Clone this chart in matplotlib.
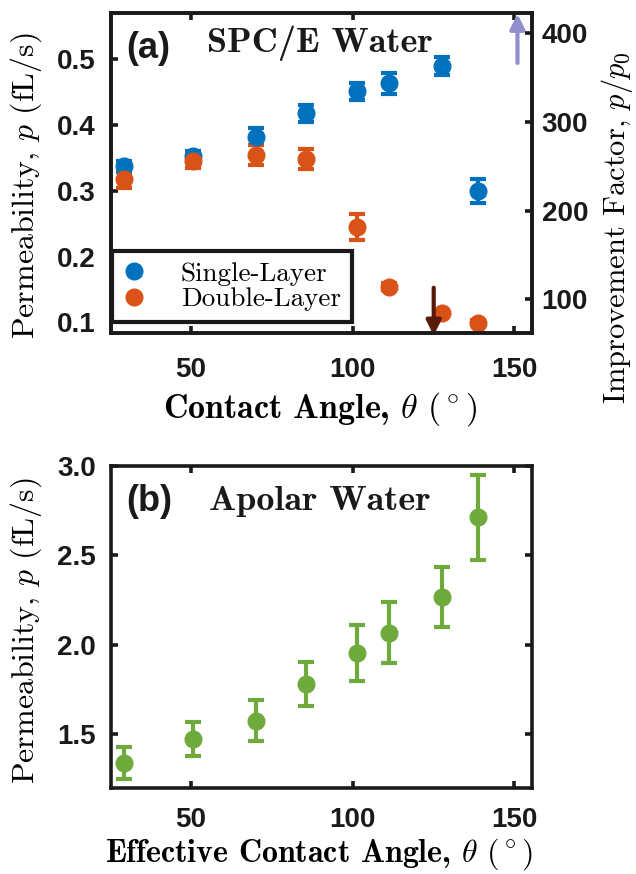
import matplotlib
matplotlib.use("Agg")
import matplotlib.pyplot as plt
from matplotlib.lines import Line2D

plt.rcParams['mathtext.fontset'] = 'cm'
plt.rcParams['axes.unicode_minus'] = False

# ---- data ----
theta = [29.4, 50.8, 70.1, 85.6, 101.3, 111.4, 127.7, 138.7]
single = [0.337, 0.353, 0.382, 0.418, 0.451, 0.4635, 0.490, 0.300]
single_err = [0.008, 0.008, 0.0127, 0.013, 0.0127, 0.016, 0.014, 0.018]
double = [0.3176, 0.346, 0.354, 0.3485, 0.2456, 0.1545, 0.115, 0.0997]
double_err = [0.014, 0.012, 0.015, 0.015, 0.0198, 0.005, 0.004, 0.004]
apolar = [1.338, 1.474, 1.576, 1.782, 1.957, 2.069, 2.267, 2.713]
apolar_err = [0.089, 0.093, 0.114, 0.121, 0.157, 0.171, 0.167, 0.236]
p0 = 0.00135
xticks = [50, 100, 150]
yticks_a = [0.1, 0.2, 0.3, 0.4, 0.5]
yticks_a2 = [100, 200, 300, 400]
yticks_b = [1.5, 2.0, 2.5, 3.0]
labels_a = ['Single-Layer', 'Double-Layer']

BLUE = '#0072BD'
ORANGE = '#D95319'
GREEN = '#6FAA3C'
DARK = '#1a1a1a'
TICKSIZE = 20

fig = plt.figure(figsize=(6.36, 8.74), dpi=100)
axa = fig.add_axes([0.1745, 0.619, 0.662, 0.366])
axb = fig.add_axes([0.1745, 0.0984, 0.662, 0.3684])

def boldify(labels):
    for lab in labels:
        lab.set_fontfamily('Liberation Sans')
        lab.set_fontweight('bold')

def style(ax, right=True, xpad=17):
    for s in ax.spines.values():
        s.set_linewidth(2.6)
        s.set_color(DARK)
    ax.tick_params(direction='in', length=5, width=2.6, top=True, right=right,
                   labelsize=TICKSIZE, colors=DARK)
    ax.tick_params(axis='x', pad=xpad)
    ax.tick_params(axis='y', pad=11)
    boldify(ax.get_xticklabels() + ax.get_yticklabels())

ekw = dict(fmt='o', markersize=12, capsize=6, capthick=3, elinewidth=3)

# ---- panel (a) ----
axa.errorbar(theta, single, yerr=single_err, color=BLUE, **ekw)
axa.errorbar(theta, double, yerr=double_err, color=ORANGE, **ekw)
axa.set_xlim(25.3, 155.5)
axa.set_ylim(0.084, 0.570)
axa.set_xticks(xticks)
axa.set_yticks(yticks_a)
axa.set_yticklabels([f'{v:.1f}' for v in yticks_a])
style(axa, right=False)
axa.set_xlabel(r'Contact Angle, $\theta$ $(^\circ)$', family='cmb10', size=24.5)
axa.set_ylabel(r'Permeability, $p$ $(\mathrm{fL/s})$', family='cmr10', size=23)
axa.xaxis.set_label_coords(0.496, -0.178)
axa.yaxis.set_label_coords(-0.16, 0.46)

ax2 = axa.twinx()
ax2.set_ylim(0.084 / p0, 0.570 / p0)
ax2.set_yticks(yticks_a2)
ax2.tick_params(direction='in', length=5, width=2.6, labelsize=TICKSIZE, pad=7, colors=DARK)
boldify(ax2.get_yticklabels())
for s in ax2.spines.values():
    s.set_linewidth(2.6)
    s.set_color(DARK)
ax2.set_ylabel(r'Improvement Factor, $p/p_0$', family='cmr10', size=22)
ax2.yaxis.set_label_coords(1.16, 0.33)

handles = [Line2D([], [], ls='none', marker='o', markersize=12, color=c) for c in (BLUE, ORANGE)]
leg = axa.legend(handles, labels_a, loc='lower left', bbox_to_anchor=(0.002, 0.034),
                 borderaxespad=0, frameon=True, fancybox=False, handletextpad=1.3,
                 handlelength=0.85, prop=dict(family='cmr10', size=19.5), borderpad=0.4,
                 labelspacing=0.05, framealpha=1)
leg.get_frame().set_linewidth(3)
leg.get_frame().set_edgecolor(DARK)

axa.annotate('', xy=(151, 0.573), xytext=(151, 0.49),
             arrowprops=dict(arrowstyle='-|>', color='#8f8fcc', lw=3, mutation_scale=22),
             annotation_clip=False)
axa.annotate('', xy=(125.1, 0.076), xytext=(125.1, 0.157),
             arrowprops=dict(arrowstyle='-|>', color='#5a1a0a', lw=3, mutation_scale=22),
             annotation_clip=False)

axa.text(0.036, 0.89, '(a)', transform=axa.transAxes, family='Liberation Sans',
         weight='bold', size=26, va='center', color=DARK)
axa.text(0.228, 0.878, 'SPC/E Water', transform=axa.transAxes, family='cmb10',
         size=26, va='baseline', color=DARK)

# ---- panel (b) ----
axb.errorbar(theta, apolar, yerr=apolar_err, color=GREEN, **ekw)
axb.set_xlim(25.3, 155.5)
axb.set_ylim(1.2, 3.0)
axb.set_xticks(xticks)
axb.set_yticks(yticks_b)
axb.set_yticklabels([f'{v:.1f}' for v in yticks_b])
style(axb, right=True, xpad=14)
axb.set_xlabel(r'Effective Contact Angle, $\theta$ $(^\circ)$', family='cmb10', size=23)
axb.set_ylabel(r'Permeability, $p$ $(\mathrm{fL/s})$', family='cmr10', size=23)
axb.xaxis.set_label_coords(0.495, -0.15)
axb.yaxis.set_label_coords(-0.16, 0.488)
axb.text(0.036, 0.891, '(b)', transform=axb.transAxes, family='Liberation Sans',
         weight='bold', size=26, va='center', color=DARK)
axb.text(0.233, 0.863, 'Apolar Water', transform=axb.transAxes, family='cmb10',
         size=26, va='baseline', color=DARK)

fig.savefig('out.png', dpi=100)
